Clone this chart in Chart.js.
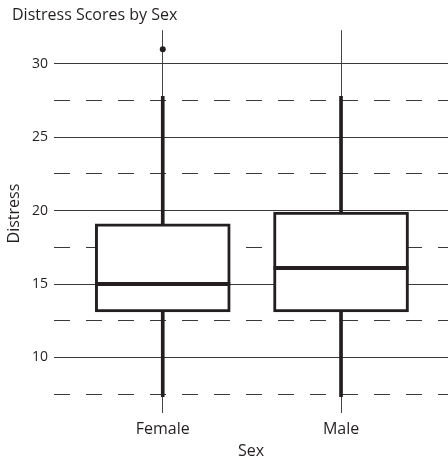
<!DOCTYPE html>
<html>
<head>
<meta charset="utf-8">
<script src="https://cdn.jsdelivr.net/npm/chart.js@4.4.1/dist/chart.umd.min.js"></script>
<style>
  html, body { margin: 0; padding: 0; background: #fff; }
  canvas { display: block; }
</style>
</head>
<body>
<canvas id="chart" width="448" height="461"></canvas>
<script>
// Five-number summaries of distress scores per group
const groups = ['Female', 'Male'];
const lowerWhisker = [7.3, 7.3];
const q1 = [13.1, 13.1];
const median = [15.0, 16.1];
const q3 = [19.1, 19.9];
const upperWhisker = [27.8, 27.8];

// Points beyond the whiskers
const outlierGroup = [0];
const outlierValue = [31.0];

// Horizontal reference lines: labelled ones are solid, the rest dashed
const yGridValues = [7.5, 10, 12.5, 15, 17.5, 20, 22.5, 25, 27.5, 30];
const yLabeled = [10, 15, 20, 25, 30];

const ink = '#231f20';
const gridInk = '#3a3a3a';

Chart.defaults.font.family = '"Open Sans", "Noto Sans", sans-serif';
Chart.defaults.color = ink;

// Median bar drawn across each box
const medianLines = {
  id: 'medianLines',
  afterDatasetsDraw(chart) {
    const { ctx, scales: { x, y } } = chart;
    const boxMeta = chart.getDatasetMeta(chart.data.datasets.findIndex(d => d.label === 'box'));
    ctx.save();
    ctx.strokeStyle = ink;
    ctx.lineWidth = 4;
    median.forEach((m, i) => {
      const half = boxMeta.data[i].width / 2;
      const cx = x.getPixelForValue(i);
      const py = y.getPixelForValue(m);
      ctx.beginPath();
      ctx.moveTo(cx - half, py);
      ctx.lineTo(cx + half, py);
      ctx.stroke();
    });
    ctx.restore();
  }
};

new Chart(document.getElementById('chart'), {
  type: 'bar',
  data: {
    datasets: [
      {
        type: 'scatter',
        label: 'outliers',
        data: outlierGroup.map((g, i) => ({ x: g, y: outlierValue[i] })),
        pointRadius: 3,
        pointBackgroundColor: ink,
        pointBorderWidth: 0
      },
      {
        label: 'upper whisker',
        data: groups.map((g, i) => ({ x: i, y: [q3[i], upperWhisker[i]] })),
        backgroundColor: ink,
        borderWidth: 0,
        barThickness: 3,
        grouped: false
      },
      {
        label: 'lower whisker',
        data: groups.map((g, i) => ({ x: i, y: [lowerWhisker[i], q1[i]] })),
        backgroundColor: ink,
        borderWidth: 0,
        barThickness: 3,
        grouped: false
      },
      {
        label: 'box',
        data: groups.map((g, i) => ({ x: i, y: [q1[i], q3[i]] })),
        backgroundColor: '#ffffff',
        borderColor: ink,
        borderWidth: 3,
        borderSkipped: false,
        barThickness: 135,
        grouped: false
      }
    ]
  },
  options: {
    responsive: false,
    animation: false,
    events: [],
    layout: { autoPadding: false, padding: { left: 12, right: 0, top: 0, bottom: 0 } },
    plugins: {
      legend: { display: false },
      tooltip: { enabled: false },
      title: {
        display: true,
        text: 'Distress Scores by Sex',
        align: 'start',
        color: ink,
        font: { size: 16, weight: 'normal' },
        padding: { top: 6, bottom: 5 }
      }
    },
    scales: {
      x: {
        type: 'linear',
        min: -0.61,
        max: 1.6,
        offset: false,
        afterBuildTicks: s => { s.ticks = groups.map((g, i) => ({ value: i })); },
        afterFit: s => { s.height = 64; s.paddingLeft = 0; s.paddingRight = 0; },
        ticks: {
          callback: v => groups[v] ?? '',
          font: { size: 16 },
          color: ink,
          padding: 7,
          maxRotation: 0
        },
        grid: {
          offset: false,
          color: '#444',
          lineWidth: 1,
          tickLength: 16,
          drawTicks: true
        },
        border: { display: false },
        title: {
          display: true,
          text: 'Sex',
          color: ink,
          font: { size: 16 },
          padding: { top: 0, bottom: 0 }
        }
      },
      y: {
        min: 7.3,
        max: 32.3,
        afterBuildTicks: s => { s.ticks = yGridValues.map(v => ({ value: v })); },
        afterFit: s => { s.width = 42; s.paddingTop = 0; s.paddingBottom = 0; },
        ticks: {
          callback: v => (yLabeled.includes(v) ? String(v) : ''),
          font: { size: 14 },
          color: ink,
          padding: 6
        },
        grid: {
          color: gridInk,
          lineWidth: 1,
          drawTicks: false
        },
        border: {
          display: false,
          dash: ctx => (ctx.tick && !yLabeled.includes(ctx.tick.value) ? [16, 16] : [])
        },
        title: {
          display: true,
          text: 'Distress',
          color: ink,
          font: { size: 16 },
          padding: { top: -7, bottom: 0 }
        }
      }
    }
  },
  plugins: [medianLines]
});
</script>
</body>
</html>
